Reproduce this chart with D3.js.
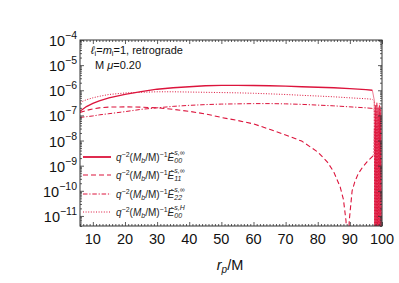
<!DOCTYPE html>
<html><head><meta charset="utf-8">
<script src="https://cdn.jsdelivr.net/npm/d3@7"></script>
<style>body{margin:0;background:#fff}svg{display:block}</style>
</head><body>
<svg id="c" width="399" height="283"></svg>
<script>
// ---- data ----
const xMain = [6, 8, 10, 12, 15, 20, 25, 30, 35, 40, 45, 50, 55, 60, 65, 70, 75, 80, 85, 90, 95, 97];
const E00inf = [1.45e-7, 2.24e-7, 3.02e-7, 3.8e-7, 5.0e-7, 6.9e-7, 8.9e-7, 1.1e-6, 1.26e-6, 1.38e-6, 1.51e-6, 1.58e-6, 1.58e-6, 1.55e-6, 1.51e-6, 1.45e-6, 1.38e-6, 1.32e-6, 1.26e-6, 1.17e-6, 1.07e-6, 1.0e-6];
const E00H   = [3.3e-7, 4.2e-7, 5.0e-7, 5.75e-7, 6.8e-7, 7.8e-7, 8.3e-7, 8.7e-7, 8.7e-7, 8.5e-7, 8.3e-7, 8.1e-7, 7.9e-7, 7.6e-7, 7.2e-7, 6.8e-7, 6.3e-7, 5.9e-7, 5.5e-7, 5.0e-7, 4.6e-7, 4.4e-7];
const E22inf = [8.3e-8, 8.9e-8, 9.5e-8, 1.05e-7, 1.17e-7, 1.41e-7, 1.74e-7, 2.0e-7, 2.29e-7, 2.51e-7, 2.69e-7, 2.82e-7, 2.88e-7, 2.95e-7, 2.95e-7, 2.88e-7, 2.75e-7, 2.57e-7, 2.4e-7, 2.19e-7, 2.0e-7, 1.9e-7];
const xE11 = [6, 8, 10, 12, 15, 20, 25, 30, 35, 40, 45, 50, 55, 60, 65, 70, 75, 80, 83, 85, 87, 88, 88.8, 89.3, 89.8, 90.7, 91.5, 92.6, 94, 95.4, 97.3];
const E11inf = [1.32e-7, 1.58e-7, 1.82e-7, 2.0e-7, 2.14e-7, 2.19e-7, 2.14e-7, 2.0e-7, 1.74e-7, 1.45e-7, 1.15e-7, 8.3e-8, 6.3e-8, 4.6e-8, 2.8e-8, 1.66e-8, 9.5e-9, 3.5e-9, 1.4e-9, 5.6e-10, 1.4e-10, 4.5e-11, 6.3e-12, 1e-13, 6.3e-12, 1.0e-10, 2.2e-10, 4.8e-10, 8.9e-10, 1.45e-9, 2.5e-9];
// near-horizon oscillating region (r_p from 97.6 to 99.8)
const xOsc = [97.6, 97.8, 98.0, 98.2, 98.4, 98.6, 98.8, 99.0, 99.2, 99.4, 99.6, 99.8];
const oscE00inf = [4e-7, 1e-12, 2.5e-7, 8e-13, 3e-7, 2e-12, 2e-7, 5e-13, 2.5e-7, 1.5e-12, 1.8e-7, 9e-13];
const oscE11inf = [3e-8, 1e-12, 6e-8, 7e-13, 4e-8, 1.5e-12, 8e-8, 5e-13, 5e-8, 2e-12, 7e-8, 8e-13];
const oscE22inf = [1.6e-7, 9e-13, 1.2e-7, 1.6e-12, 1.4e-7, 6e-13, 1e-7, 1.3e-12, 1.3e-7, 8e-13, 1.1e-7, 2e-12];
const oscE00H   = [3.5e-7, 1.2e-12, 2.5e-7, 7e-13, 3.2e-7, 1.8e-12, 2.2e-7, 6e-13, 3e-7, 1.4e-12, 2.4e-7, 9e-13];
const xTicks = [10, 20, 30, 40, 50, 60, 70, 80, 90, 100];
const yExps = [-4, -5, -6, -7, -8, -9, -10, -11];
const legendSub = ["00", "11", "22", "00"];
const legendSup = ["s,\u221E", "s,\u221E", "s,\u221E", "s,H"];

// ---- layout ----
const color = "#dc143c";
const L = 80, R = 382, T = 40, B = 226;
const svg = d3.select("#c");
const x = d3.scaleLinear().domain([6, 100]).range([L, R]);
const y = d3.scaleLog().domain([Math.pow(10, -11.4), 1e-4]).range([B, T]);

svg.append("clipPath").attr("id", "clip").append("rect")
  .attr("x", L).attr("y", T).attr("width", R - L).attr("height", B - T);
const plot = svg.append("g").attr("clip-path", "url(#clip)");

function mk(xs, ys) { return xs.map((v, i) => [v, ys[i]]); }
const line = d3.line().x(d => x(d[0])).y(d => y(d[1]));

const series = [
  { main: mk(xMain, E00inf), osc: mk(xOsc, oscE00inf), dash: null, w: 1.3 },
  { main: mk(xE11, E11inf), osc: mk(xOsc, oscE11inf), dash: "5,3", w: 1.1 },
  { main: mk(xMain, E22inf), osc: mk(xOsc, oscE22inf), dash: "4.5,1.8,1.2,1.8", w: 1.0 },
  { main: mk(xMain, E00H), osc: mk(xOsc, oscE00H), dash: "1,1.6", w: 1.0 }
];
series.forEach(s => {
  plot.append("path").attr("d", line(s.main)).attr("fill", "none")
    .attr("stroke", color).attr("stroke-width", s.w)
    .attr("stroke-dasharray", s.dash);
  plot.append("path").attr("d", line([s.main[s.main.length - 1]].concat(s.osc))).attr("fill", "none")
    .attr("stroke", color).attr("stroke-width", 0.7).attr("stroke-opacity", 0.8)
    .attr("stroke-dasharray", s.dash ? "1.5,1.5" : null);
});

// ---- axes ----
const axCol = "#333";
const minorX = d3.range(6, 101, 1).filter(v => v % 10 !== 0);
const minorY = [];
for (let e = -12; e <= -5; e++) for (let k = 2; k <= 9; k++) {
  const v = k * Math.pow(10, e);
  if (v >= Math.pow(10, -11.4) && v <= 1e-4) minorY.push(v);
}
const majorY = yExps.map(e => Math.pow(10, e));
function styleAx(g) {
  g.select(".domain").remove();
  g.selectAll("line").attr("stroke", axCol).attr("stroke-width", 0.8);
  g.selectAll("text").remove();
}
svg.append("g").attr("transform", `translate(0,${B})`).call(d3.axisBottom(x).tickValues(xTicks).tickSize(-4)).call(styleAx);
svg.append("g").attr("transform", `translate(0,${B})`).call(d3.axisBottom(x).tickValues(minorX).tickSize(-2)).call(styleAx);
svg.append("g").attr("transform", `translate(0,${T})`).call(d3.axisTop(x).tickValues(xTicks).tickSize(-4)).call(styleAx);
svg.append("g").attr("transform", `translate(0,${T})`).call(d3.axisTop(x).tickValues(minorX).tickSize(-2)).call(styleAx);
svg.append("g").attr("transform", `translate(${L},0)`).call(d3.axisLeft(y).tickValues(majorY).tickSize(-4)).call(styleAx);
svg.append("g").attr("transform", `translate(${L},0)`).call(d3.axisLeft(y).tickValues(minorY).tickSize(-2)).call(styleAx);
svg.append("g").attr("transform", `translate(${R},0)`).call(d3.axisRight(y).tickValues(majorY).tickSize(-4)).call(styleAx);
svg.append("g").attr("transform", `translate(${R},0)`).call(d3.axisRight(y).tickValues(minorY).tickSize(-2)).call(styleAx);
svg.append("rect").attr("x", L).attr("y", T).attr("width", R - L).attr("height", B - T)
  .attr("fill", "none").attr("stroke", axCol).attr("stroke-width", 1);

const font = "'Liberation Sans', Arial, sans-serif";
// x tick labels
svg.append("g").selectAll("text").data(xTicks).join("text")
  .attr("x", d => x(d)).attr("y", B + 18).attr("text-anchor", "middle")
  .attr("font-family", font).attr("font-size", 14.5).attr("fill", "#111").text(d => d);
// y tick labels
yExps.forEach(e => {
  const t = svg.append("text").attr("x", L - 3).attr("y", y(Math.pow(10, e)) + 6)
    .attr("text-anchor", "end").attr("font-family", font).attr("font-size", 14.5).attr("fill", "#111");
  t.append("tspan").text("10");
  t.append("tspan").attr("dy", -7).attr("font-size", 10.5).text("\u2212" + (-e));
});
// x axis label
const xl = svg.append("text").attr("x", 230).attr("y", 270).attr("text-anchor", "middle")
  .attr("font-family", font).attr("font-size", 14.5).attr("fill", "#111");
xl.append("tspan").attr("font-style", "italic").text("r");
xl.append("tspan").attr("font-style", "italic").attr("font-size", 10).attr("dy", 3).text("p");
xl.append("tspan").attr("dy", -3).text("/M");

// annotation
const a1 = svg.append("text").attr("x", 91).attr("y", 54).attr("font-family", font).attr("font-size", 11).attr("fill", "#111");
a1.append("tspan").attr("font-style", "italic").text("\u2113");
a1.append("tspan").attr("font-size", 7.5).attr("dy", 2).text("i");
a1.append("tspan").attr("dy", -2).text("=");
a1.append("tspan").attr("font-style", "italic").text("m");
a1.append("tspan").attr("font-size", 7.5).attr("dy", 2).text("i");
a1.append("tspan").attr("dy", -2).text("=1, retrograde");
const a2 = svg.append("text").attr("x", 95).attr("y", 69).attr("font-family", font).attr("font-size", 11).attr("fill", "#111");
a2.append("tspan").text("M ");
a2.append("tspan").attr("font-style", "italic").text("\u03BC");
a2.append("tspan").text("=0.20");

// legend
const legY = [157, 175, 194, 212];
series.forEach((s, i) => {
  svg.append("line").attr("x1", 83).attr("x2", 111).attr("y1", legY[i]).attr("y2", legY[i])
    .attr("stroke", color).attr("stroke-width", s.w + (i === 0 ? 0.5 : 0)).attr("stroke-dasharray", s.dash);
  const t = svg.append("text").attr("x", 116).attr("y", legY[i] + 3.5)
    .attr("font-family", font).attr("font-size", 10).attr("fill", "#222");
  t.append("tspan").attr("font-style", "italic").text("q");
  t.append("tspan").attr("font-size", 7).attr("dy", -4).text("\u22122");
  t.append("tspan").attr("dy", 4).text("(");
  t.append("tspan").attr("font-style", "italic").text("M");
  t.append("tspan").attr("font-size", 7).attr("dy", 2).attr("font-style", "italic").text("b");
  t.append("tspan").attr("dy", -2).text("/M)");
  t.append("tspan").attr("font-size", 7).attr("dy", -4).text("\u22121");
  t.append("tspan").attr("dy", 4).attr("font-style", "italic").text("\u0116");
  const tx = t.node().getComputedTextLength();
  t.append("tspan").attr("font-size", 7).attr("dy", 2.5).attr("font-style", "italic").text(legendSub[i]);
  t.append("tspan").attr("font-size", 7).attr("x", 116 + tx).attr("dy", -8).attr("font-style", "italic").text(legendSup[i]);
});
</script>
</body></html>
